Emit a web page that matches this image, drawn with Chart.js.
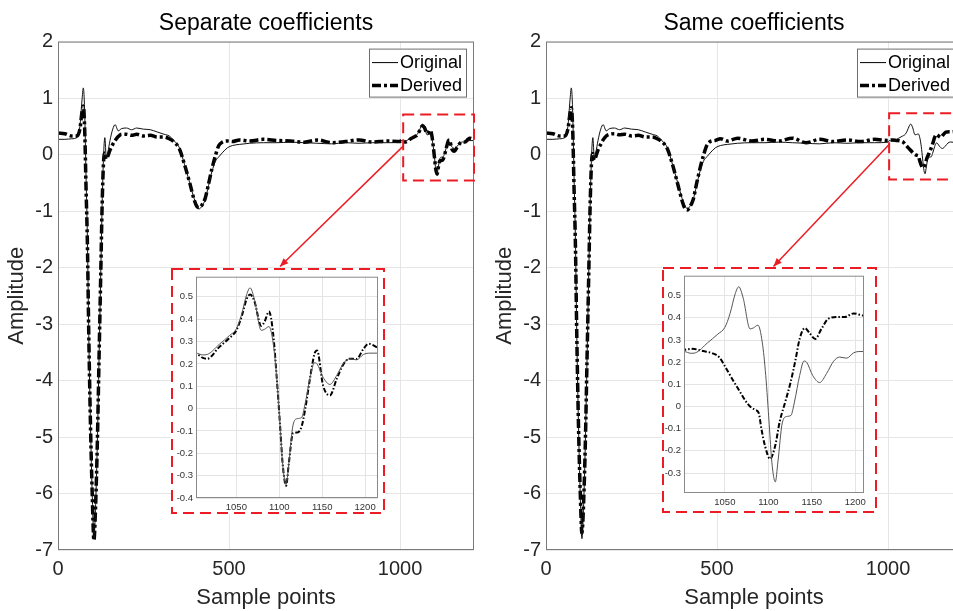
<!DOCTYPE html>
<html>
<head>
<meta charset="utf-8">
<script src="https://cdn.jsdelivr.net/npm/chart.js@4.4.1/dist/chart.umd.min.js"></script>
<style>
  html, body { margin: 0; padding: 0; background: #fff; }
  #wrap { position: relative; width: 953px; height: 611px; overflow: hidden; }
  .panel { position: absolute; top: 0; }
  .inset { position: absolute; }
</style>
</head>
<body>
<div id="wrap">
  <canvas id="mainLeft" class="panel" width="480" height="611" style="left:0px"></canvas>
  <canvas id="mainRight" class="panel" width="480" height="611" style="left:488px"></canvas>
  <canvas id="insetLeft" class="inset"></canvas>
  <canvas id="insetRight" class="inset"></canvas>
</div>
<script>
// ---- data ----

// sample points 0 .. 1000
const mainX = [0, 20, 40, 55, 64, 70, 74, 78, 82, 86, 90, 95, 100, 105, 110, 115, 120, 125, 129, 133,
  137, 141, 146, 152, 160, 167, 176, 186, 200, 215, 230, 250, 270, 290, 310, 325, 340, 355, 370, 385,
  398, 406, 413, 420, 430, 440, 450, 460, 470, 480, 495, 510, 530, 560, 600, 640, 680, 720, 760, 800,
  840, 880, 920, 960, 1000];

const originalMainY = [0.27, 0.27, 0.28, 0.30, 0.50, 0.95, 1.18, 0.75, -0.40, -1.50,
  -3.20, -4.80, -6.00, -6.80, -6.20, -5.10, -3.60, -2.10, -0.90, -0.05,
  0.30, -0.05, 0.05, 0.25, 0.45, 0.53, 0.42, 0.46, 0.47, 0.44,
  0.47, 0.45, 0.44, 0.40, 0.36, 0.33, 0.24, 0.12, -0.18, -0.50,
  -0.78, -0.90, -0.96, -0.92, -0.80, -0.55, -0.30, -0.12, -0.04, 0.03,
  0.12, 0.16, 0.18, 0.20, 0.21, 0.21, 0.22, 0.21, 0.20, 0.19,
  0.21, 0.20, 0.21, 0.21, 0.22];

const derivedSepMainY = [0.38, 0.37, 0.33, 0.33, 0.45, 0.75, 0.86, 0.45, -0.60, -1.60,
  -3.20, -4.80, -6.00, -6.83, -6.20, -5.10, -3.60, -2.10, -0.90, -0.15,
  0.03, -0.08, -0.02, 0.08, 0.18, 0.25, 0.32, 0.36, 0.36, 0.34,
  0.36, 0.33, 0.34, 0.31, 0.31, 0.28, 0.22, 0.10, -0.18, -0.50,
  -0.80, -0.92, -0.94, -0.90, -0.78, -0.52, -0.25, -0.02, 0.16, 0.22,
  0.24, 0.23, 0.26, 0.24, 0.27, 0.25, 0.24, 0.22, 0.26, 0.21,
  0.23, 0.26, 0.22, 0.24, 0.23];

const derivedSameMainY = [0.38, 0.37, 0.33, 0.33, 0.45, 0.72, 0.83, 0.45, -0.60, -1.60,
  -3.20, -4.80, -5.95, -6.70, -6.15, -5.10, -3.60, -2.10, -0.90, -0.15,
  0.02, -0.10, -0.03, 0.08, 0.18, 0.26, 0.33, 0.36, 0.37, 0.35,
  0.36, 0.33, 0.34, 0.31, 0.31, 0.28, 0.22, 0.10, -0.18, -0.52,
  -0.82, -0.95, -0.98, -0.93, -0.80, -0.52, -0.25, -0.02, 0.16, 0.23,
  0.25, 0.28, 0.24, 0.29, 0.24, 0.27, 0.24, 0.29, 0.21, 0.27,
  0.23, 0.26, 0.23, 0.27, 0.25];

// zoomed window 1003 .. 1215
const zoomX = [1003, 1011, 1016, 1030, 1042, 1050, 1056, 1062, 1066, 1071, 1079, 1083, 1088, 1093, 1097,
  1101, 1104, 1108, 1111, 1116, 1121, 1126, 1130, 1136, 1141, 1144, 1151, 1159, 1167, 1175,
  1182, 1190, 1198, 1204, 1215];

const originalZoomY = [0.248, 0.240, 0.242, 0.287, 0.327, 0.357, 0.42, 0.51, 0.54, 0.49, 0.35, 0.355, 0.367, 0.29, 0.14,
  -0.08, -0.25, -0.34, -0.25, -0.074, -0.045, -0.04, 0.02, 0.14, 0.205, 0.20, 0.14, 0.108, 0.149, 0.204,
  0.223, 0.218, 0.242, 0.248, 0.248];

const derivedSepZoomY = [0.245, 0.227, 0.223, 0.275, 0.316, 0.35, 0.41, 0.49, 0.51, 0.48, 0.37, 0.39, 0.434, 0.33, 0.14,
  -0.08, -0.25, -0.345, -0.25, -0.11, -0.107, -0.08, -0.007, 0.14, 0.245, 0.26, 0.104, 0.059, 0.134, 0.20,
  0.223, 0.222, 0.267, 0.29, 0.272];

const zoomSameX = [1003, 1013, 1025, 1036, 1044, 1052, 1060, 1067, 1073, 1079, 1085, 1089, 1092, 1096, 1102,
  1108, 1113, 1119, 1125, 1131, 1136, 1142, 1148, 1154, 1161, 1169, 1179, 1188, 1198, 1210, 1215];

const derivedSameZoomY = [0.255, 0.26, 0.25, 0.24, 0.22, 0.168, 0.114, 0.069, 0.03, 0.0, -0.015, -0.03, -0.1, -0.175, -0.236,
  -0.175, -0.069, 0.015, 0.1, 0.206, 0.305, 0.354, 0.328, 0.305, 0.35, 0.396, 0.404, 0.404, 0.42, 0.41, 0.41];

const seriesNames = ["Original", "Derived"];
const panelTitles = ["Separate coefficients", "Same coefficients"];
const mainXTicks = [0, 500, 1000];

// annotation boxes in data units: [x0, x1, yTop, yBottom], arrow [x0, y0, x1, y1]
const zoomBoxSep = [1009, 1216, 0.71, -0.46];
const zoomBoxSame = [1003, 1216, 0.73, -0.44];
const arrowSep = [1009, 0.15, 649, -1.98];
const arrowSame = [1003, 0.18, 665, -1.98];
const insetBoxSep = [330, 956, -2.0, -6.35];
const insetBoxSame = [339, 968, -1.99, -6.35];

// ---- drawing ----
const FONT = "'Liberation Sans', Arial, Helvetica, sans-serif";
const RED = "#ec1c24";
const INK = "#262626";

function toPoints(xs, ys) {
  return xs.map(function (x, i) { return { x: x, y: ys[i] }; });
}

// plain numbers, no thousands separator
function plain(v) {
  return String(Math.round(v * 1000) / 1000);
}

const originalPts = toPoints(mainX.concat(zoomX), originalMainY.concat(originalZoomY));
const derivedSepPts = toPoints(mainX.concat(zoomX), derivedSepMainY.concat(derivedSepZoomY));
const derivedSamePts = toPoints(mainX.concat(zoomSameX), derivedSameMainY.concat(derivedSameZoomY));

function lineSets(derivedPts, big) {
  return [
    {
      label: seriesNames[0], data: originalPts, borderColor: big ? "#111" : "#555",
      borderWidth: 1, pointRadius: 0, cubicInterpolationMode: "monotone"
    },
    {
      label: seriesNames[1], data: derivedPts, borderColor: "#000",
      borderWidth: big ? 3.5 : 2, borderDash: big ? [9, 3, 3, 3] : [5, 2, 1.5, 2],
      pointRadius: 0, cubicInterpolationMode: "monotone"
    }
  ];
}

// white background + plot box + red marks + legend for the big plots
function mainDecor(zoomBox, arrow) {
  return {
    id: "decor",
    beforeDraw(chart) {
      const ctx = chart.ctx;
      ctx.save();
      ctx.fillStyle = "#fff";
      ctx.fillRect(0, 0, chart.width, chart.height);
      ctx.restore();
    },
    afterDatasetsDraw(chart) {
      const ctx = chart.ctx, a = chart.chartArea;
      const xs = chart.scales.x, ys = chart.scales.y;
      ctx.save();
      ctx.strokeStyle = "#7a7a7a";
      ctx.lineWidth = 1;
      ctx.strokeRect(a.left + 0.5, a.top + 0.5, a.right - a.left - 1, a.bottom - a.top - 1);

      // dashed zoom box
      const zx0 = xs.getPixelForValue(zoomBox[0]), zx1 = xs.getPixelForValue(zoomBox[1]);
      const zy0 = ys.getPixelForValue(zoomBox[2]), zy1 = ys.getPixelForValue(zoomBox[3]);
      ctx.strokeStyle = RED;
      ctx.lineWidth = 2;
      ctx.setLineDash([11, 6]);
      ctx.strokeRect(zx0, zy0, zx1 - zx0, zy1 - zy0);

      // arrow to the inset
      const ax0 = xs.getPixelForValue(arrow[0]), ay0 = ys.getPixelForValue(arrow[1]);
      const ax1 = xs.getPixelForValue(arrow[2]), ay1 = ys.getPixelForValue(arrow[3]);
      ctx.setLineDash([]);
      ctx.lineWidth = 1.5;
      ctx.beginPath();
      ctx.moveTo(ax0, ay0);
      ctx.lineTo(ax1, ay1);
      ctx.stroke();
      const ang = Math.atan2(ay1 - ay0, ax1 - ax0);
      ctx.fillStyle = RED;
      ctx.beginPath();
      ctx.moveTo(ax1, ay1);
      ctx.lineTo(ax1 - 9 * Math.cos(ang - 0.4), ay1 - 9 * Math.sin(ang - 0.4));
      ctx.lineTo(ax1 - 9 * Math.cos(ang + 0.4), ay1 - 9 * Math.sin(ang + 0.4));
      ctx.closePath();
      ctx.fill();

      // legend box, top right inside the plot
      const bx = a.right - 105, by = a.top + 7, bw = 97, bh = 48;
      ctx.fillStyle = "#fff";
      ctx.fillRect(bx, by, bw, bh);
      ctx.strokeStyle = "#6e6e6e";
      ctx.lineWidth = 1;
      ctx.strokeRect(bx + 0.5, by + 0.5, bw, bh);
      ctx.strokeStyle = "#000";
      ctx.beginPath();
      ctx.moveTo(bx + 3, by + 14);
      ctx.lineTo(bx + 29, by + 14);
      ctx.stroke();
      ctx.lineWidth = 3.5;
      ctx.setLineDash([9, 3, 3, 3]);
      ctx.beginPath();
      ctx.moveTo(bx + 3, by + 37);
      ctx.lineTo(bx + 29, by + 37);
      ctx.stroke();
      ctx.setLineDash([]);
      ctx.fillStyle = "#000";
      ctx.font = "18px " + FONT;
      ctx.textBaseline = "middle";
      ctx.textAlign = "left";
      ctx.fillText(seriesNames[0], bx + 31, by + 14);
      ctx.fillText(seriesNames[1], bx + 31, by + 37);
      ctx.restore();
    }
  };
}

function makeMain(canvasId, title, derivedPts, zoomBox, arrow) {
  return new Chart(document.getElementById(canvasId), {
    type: "line",
    data: { datasets: lineSets(derivedPts, true) },
    options: {
      responsive: false, animation: false, devicePixelRatio: 1,
      layout: { padding: { left: 0, right: 6, top: 0, bottom: 0 } },
      plugins: {
        legend: { display: false },
        tooltip: { enabled: false },
        title: {
          display: true, text: title, color: "#000", fullSize: false,
          font: { family: FONT, size: 23, weight: "normal", lineHeight: 1.2 },
          padding: { top: 10, bottom: 4 }
        }
      },
      scales: {
        x: {
          type: "linear", min: 0, max: 1216,
          afterBuildTicks: function (s) { s.ticks = mainXTicks.map(function (v) { return { value: v }; }); },
          ticks: { color: INK, font: { family: FONT, size: 20 }, padding: 7, maxRotation: 0, callback: plain },
          grid: { color: "#e6e6e6", drawTicks: false },
          border: { display: false },
          title: { display: true, text: "Sample points", color: INK, font: { family: FONT, size: 22 }, padding: 0 },
          afterFit: function (s) { s.height = 61; }
        },
        y: {
          min: -7, max: 2,
          ticks: { stepSize: 1, color: INK, font: { family: FONT, size: 20 }, padding: 5, callback: plain },
          grid: { color: "#e6e6e6", drawTicks: false },
          border: { display: false },
          title: { display: true, text: "Amplitude", color: INK, font: { family: FONT, size: 22 }, padding: { top: 4, bottom: 0 } },
          afterFit: function (s) { s.width = 58; }
        }
      }
    },
    plugins: [mainDecor(zoomBox, arrow)]
  });
}

function insetDecor() {
  return {
    id: "insetDecor",
    beforeDraw(chart) {
      const ctx = chart.ctx;
      ctx.save();
      ctx.fillStyle = "#fff";
      ctx.fillRect(0, 0, chart.width, chart.height);
      ctx.restore();
    },
    afterDraw(chart) {
      const ctx = chart.ctx, a = chart.chartArea;
      ctx.save();
      ctx.strokeStyle = "#8a8a8a";
      ctx.lineWidth = 1;
      ctx.strokeRect(a.left + 0.5, a.top + 0.5, a.right - a.left - 1, a.bottom - a.top - 1);
      ctx.strokeStyle = RED;
      ctx.lineWidth = 2;
      ctx.setLineDash([11, 6]);
      ctx.strokeRect(1, 1, chart.width - 2, chart.height - 2);
      ctx.restore();
    }
  };
}

function makeInset(canvasId, mainChart, panelLeft, box, derivedPts, opt) {
  const xs = mainChart.scales.x, ys = mainChart.scales.y;
  const l = xs.getPixelForValue(box[0]), r = xs.getPixelForValue(box[1]);
  const t = ys.getPixelForValue(box[2]), b = ys.getPixelForValue(box[3]);
  const cv = document.getElementById(canvasId);
  cv.width = Math.round(r - l);
  cv.height = Math.round(b - t);
  cv.style.left = Math.round(panelLeft + l) + "px";
  cv.style.top = Math.round(t) + "px";

  return new Chart(cv, {
    type: "line",
    data: { datasets: lineSets(derivedPts, false) },
    options: {
      responsive: false, animation: false, devicePixelRatio: 1,
      layout: { padding: { left: 0, right: opt.padRight, top: 4, bottom: 0 } },
      plugins: { legend: { display: false }, tooltip: { enabled: false } },
      scales: {
        x: {
          type: "linear", min: 1003, max: opt.xMax,
          ticks: { stepSize: 50, includeBounds: false, color: "#333", font: { family: FONT, size: 9.5 }, padding: 4, maxRotation: 0, callback: plain },
          grid: { color: "#e4e4e4", drawTicks: false },
          border: { display: false },
          afterFit: function (s) { s.height = opt.bottom; }
        },
        y: {
          min: opt.yMin, max: 0.59,
          ticks: { stepSize: 0.1, includeBounds: false, color: "#333", font: { family: FONT, size: 9.5 }, padding: 3, callback: plain },
          grid: { color: "#e4e4e4", drawTicks: false },
          border: { display: false },
          afterFit: function (s) { s.width = opt.left; }
        }
      }
    },
    plugins: [insetDecor()]
  });
}

const leftChart = makeMain("mainLeft", panelTitles[0], derivedSepPts, zoomBoxSep, arrowSep);
const rightChart = makeMain("mainRight", panelTitles[1], derivedSamePts, zoomBoxSame, arrowSame);

makeInset("insetLeft", leftChart, 0, insetBoxSep, derivedSepPts,
  { xMax: 1215, yMin: -0.4, left: 25, bottom: 16, padRight: 7 });
makeInset("insetRight", rightChart, 488, insetBoxSame, derivedSamePts,
  { xMax: 1210, yMin: -0.39, left: 22, bottom: 20, padRight: 13 });
</script>
</body>
</html>
